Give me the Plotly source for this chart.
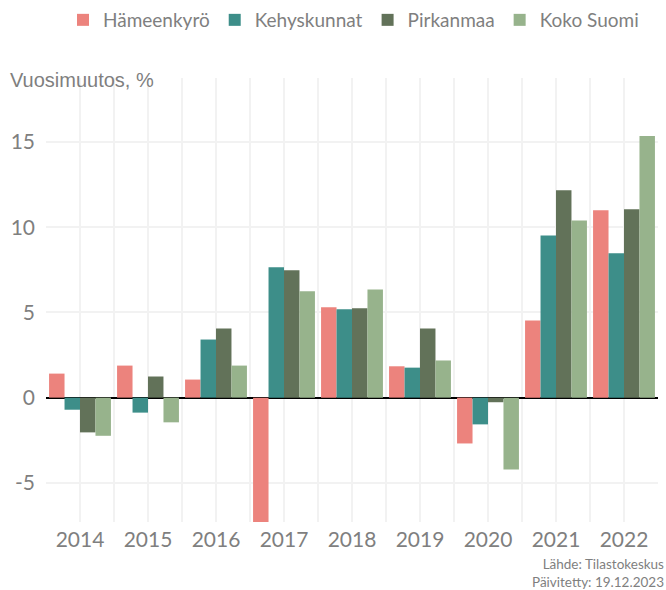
import plotly.graph_objects as go

years = [2014, 2015, 2016, 2017, 2018, 2019, 2020, 2021, 2022]
series_names = ["Hämeenkyrö", "Kehyskunnat", "Pirkanmaa", "Koko Suomi"]
hameenkyro = [1.41, 1.88, 1.06, -8.0, 5.30, 1.84, -2.69, 4.52, 11.00]
kehyskunnat = [-0.71, -0.88, 3.41, 7.65, 5.18, 1.76, -1.57, 9.52, 8.47]
pirkanmaa = [-2.04, 1.24, 4.06, 7.47, 5.24, 4.06, -0.27, 12.17, 11.06]
koko_suomi = [-2.24, -1.45, 1.88, 6.24, 6.35, 2.18, -4.22, 10.40, 15.35]
colors = ["#EC837D", "#3D8E89", "#627259", "#97B38C"]
y_ticks = [-5, 0, 5, 10, 15]
caption_lines = ["Lähde: Tilastokeskus", "Päivitetty: 19.12.2023"]

font_main = "Lato, 'Open Sans', sans-serif"
grey = "#7f7f7f"

fig = go.Figure()
for name, vals, col in zip(series_names, [hameenkyro, kehyskunnat, pirkanmaa, koko_suomi], colors):
    fig.add_trace(go.Bar(x=years, y=vals, name=name, marker=dict(color=col, line=dict(width=0))))

tickvals = []
ticktext = []
for y in years:
    tickvals += [y - 0.5, y]
    ticktext += ["", str(y)]
tickvals.append(years[-1] + 0.5)
ticktext.append("")

fig.update_layout(
    width=666, height=590,
    margin=dict(l=45.5, r=8, t=78, b=68),
    paper_bgcolor="white", plot_bgcolor="white",
    barmode="group", bargap=0.09, bargroupgap=0,
    font=dict(family=font_main, color=grey),
    title=dict(text="Vuosimuutos, %", x=10/666, xanchor="left", xref="container",
               y=1 - 80/590, yanchor="middle", yref="container",
               font=dict(family="'Liberation Sans', Arial, sans-serif", size=20, color=grey)),
    legend=dict(orientation="h", x=1 - 22/666, xanchor="right", xref="container", y=1 - 20/590, yanchor="middle",
                yref="container", font=dict(size=19, color=grey), traceorder="normal",
                itemwidth=30, bgcolor="rgba(0,0,0,0)"),
    xaxis=dict(range=[years[0] - 0.5, years[-1] + 0.5], tickvals=tickvals, ticktext=ticktext,
               showgrid=True, gridcolor="#f2f2f2", gridwidth=2, zeroline=False,
               showline=False, ticks="", tickfont=dict(size=21, color=grey), ticklabelstandoff=3),
    yaxis=dict(range=[-7.3, 18.76], tickvals=y_ticks, ticktext=[str(v) for v in y_ticks],
               showgrid=True, gridcolor="#f2f2f2", gridwidth=2,
               zeroline=True, zerolinecolor="black", zerolinewidth=1.5,
               showline=False, ticks="", tickfont=dict(size=21, color=grey), ticklabelstandoff=10),
)

fig.add_annotation(text="<br>".join(caption_lines), xref="paper", yref="paper", x=1, y=0,
                   xanchor="right", yanchor="middle", align="right", xshift=7, yshift=-51,
                   showarrow=False, borderpad=0,
                   font=dict(size=13.5, color=grey, family=font_main))

fig.write_html("out.html", config={"displayModeBar": False},
               post_script="document.body.style.margin='0';")
